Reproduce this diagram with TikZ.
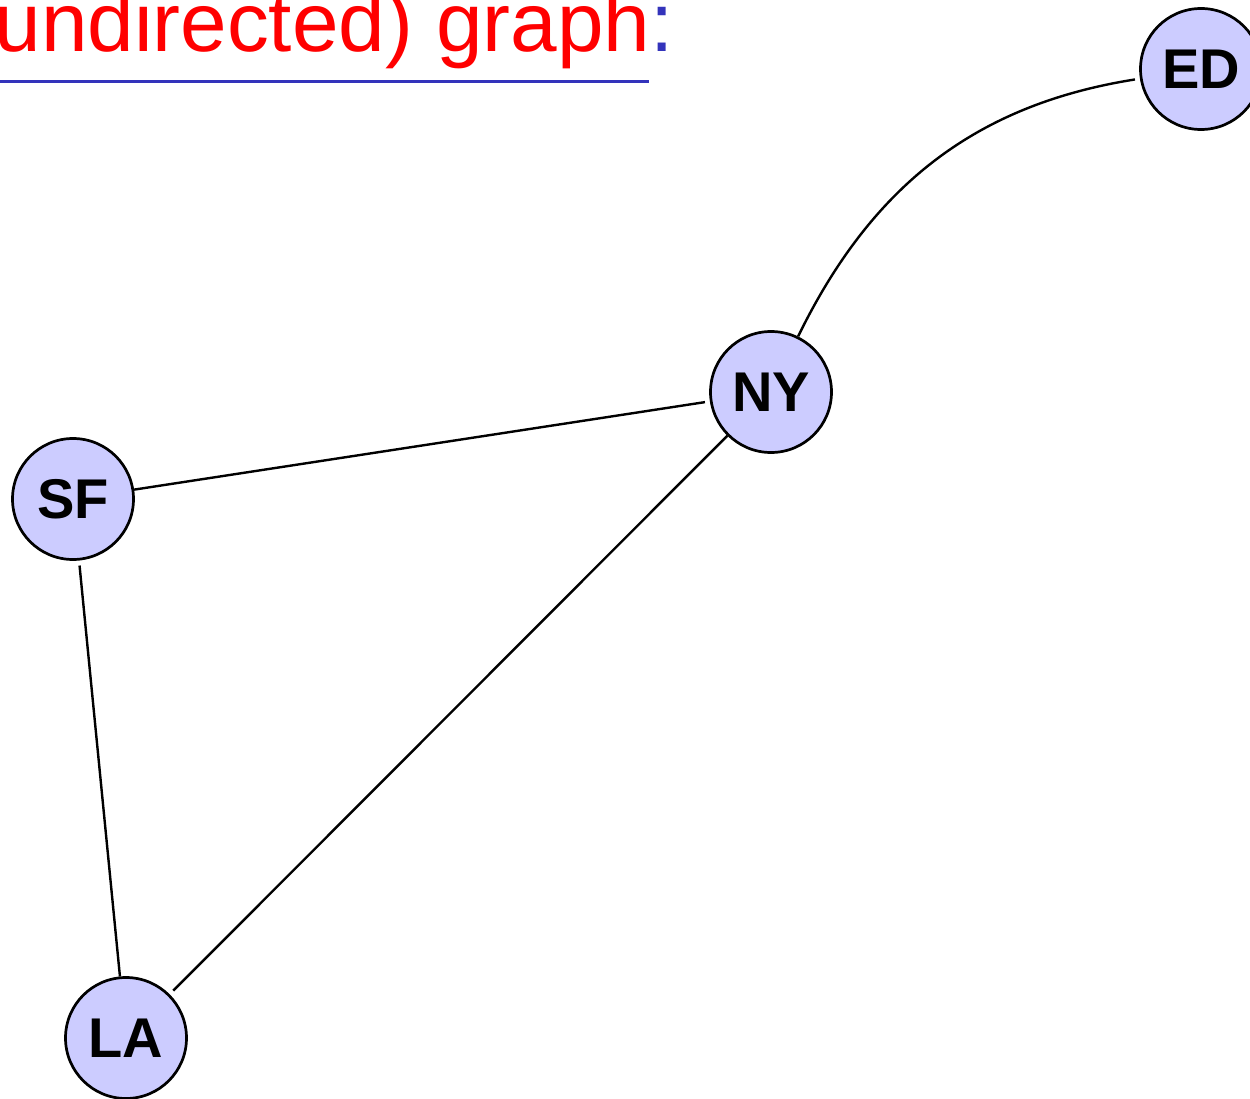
\documentclass[tikz,border=0pt]{standalone}
\usepackage{fontspec}
\setmainfont{Liberation Sans}
\definecolor{cityfill}{RGB}{204,204,255}
\definecolor{rulecol}{RGB}{51,51,187}

\begin{document}
\begin{tikzpicture}[x=1pt,y=1pt,
  city/.style={circle,draw,line width=2.7pt,fill=cityfill,minimum size=121pt,
               inner sep=0pt,font=\fontsize{56}{60}\selectfont\bfseries},
  link/.style={line width=2.4pt,shorten >=5pt}]
  \useasboundingbox (0,0) rectangle (1250,-1099);
  % heading
  \node (title) [anchor=base west,inner sep=0pt,font=\fontsize{83.7}{90}\selectfont]
    at (-5.7,-52) {\textcolor{red}{undirected) graph}\textcolor{rulecol}{:}};
  \draw[rulecol,line width=3pt] (0,-82) -- (649,-82);
  % cities
  \node (ED) [city] at (1201,-69) {ED};
  \node (NY) [city] at (771,-392) {NY};
  \node (SF) [city] at (73,-499) {SF};
  \node (LA) [city] at (126,-1038) {LA};
  \path
    (SF) edge [link] (NY)
    (LA) edge [link] (SF)
    (NY) edge [link] (LA)
    (NY) edge [link,out=64,in=189] (ED);
\end{tikzpicture}
\end{document}
